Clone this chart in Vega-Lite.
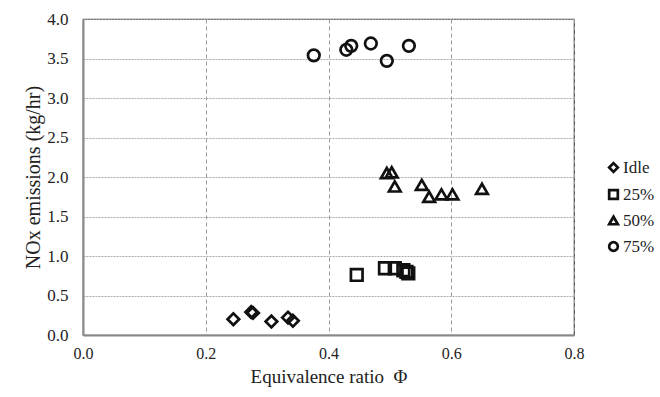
{
  "$schema": "https://vega.github.io/schema/vega-lite/v6.json",
  "width": 491,
  "height": 316,
  "autosize": {"type": "none"},
  "padding": {"left": 83, "top": 19, "right": 86, "bottom": 62},
  "background": "white",
  "config": {
    "font": "Liberation Serif",
    "view": {"stroke": "#444", "strokeWidth": 1.2},
    "axis": {
      "labelFont": "Liberation Serif",
      "titleFont": "Liberation Serif",
      "labelFontSize": 17,
      "titleFontSize": 19,
      "titleFontWeight": "normal",
      "labelColor": "#222",
      "titleColor": "#222",
      "domainColor": "#888",
      "domainWidth": 2,
      "ticks": false,
      "gridColor": "#aaa",
      "gridWidth": 1
    },
    "legend": {
      "labelFont": "Liberation Serif",
      "labelFontSize": 17,
      "labelColor": "#222"
    }
  },
  "data": {
    "values": [
      {"phi": 0.245, "nox": 0.20, "load": "Idle"},
      {"phi": 0.274, "nox": 0.29, "load": "Idle"},
      {"phi": 0.277, "nox": 0.28, "load": "Idle"},
      {"phi": 0.307, "nox": 0.17, "load": "Idle"},
      {"phi": 0.334, "nox": 0.22, "load": "Idle"},
      {"phi": 0.342, "nox": 0.18, "load": "Idle"},
      {"phi": 0.446, "nox": 0.76, "load": "25%"},
      {"phi": 0.492, "nox": 0.845, "load": "25%"},
      {"phi": 0.508, "nox": 0.845, "load": "25%"},
      {"phi": 0.522, "nox": 0.82, "load": "25%"},
      {"phi": 0.527, "nox": 0.80, "load": "25%"},
      {"phi": 0.530, "nox": 0.78, "load": "25%"},
      {"phi": 0.495, "nox": 2.05, "load": "50%"},
      {"phi": 0.503, "nox": 2.06, "load": "50%"},
      {"phi": 0.508, "nox": 1.88, "load": "50%"},
      {"phi": 0.552, "nox": 1.90, "load": "50%"},
      {"phi": 0.564, "nox": 1.75, "load": "50%"},
      {"phi": 0.584, "nox": 1.78, "load": "50%"},
      {"phi": 0.602, "nox": 1.78, "load": "50%"},
      {"phi": 0.650, "nox": 1.85, "load": "50%"},
      {"phi": 0.376, "nox": 3.54, "load": "75%"},
      {"phi": 0.429, "nox": 3.61, "load": "75%"},
      {"phi": 0.437, "nox": 3.66, "load": "75%"},
      {"phi": 0.469, "nox": 3.69, "load": "75%"},
      {"phi": 0.495, "nox": 3.47, "load": "75%"},
      {"phi": 0.531, "nox": 3.66, "load": "75%"}
    ]
  },
  "mark": {"type": "point", "filled": false, "stroke": "#111", "strokeWidth": 2.7, "opacity": 1, "size": 135},
  "encoding": {
    "x": {
      "field": "phi", "type": "quantitative",
      "scale": {"domain": [0, 0.8], "nice": false, "zero": true},
      "axis": {"values": [0, 0.2, 0.4, 0.6, 0.8], "format": ".1f", "title": "Equivalence ratio \u00a0Φ",
               "labelFontSize": 16, "labelPadding": 10, "titlePadding": 6, "gridDash": [4, 3], "gridColor": "#999", "labelFlush": false}
    },
    "y": {
      "field": "nox", "type": "quantitative",
      "scale": {"domain": [0, 4], "nice": false},
      "axis": {"values": [0, 0.5, 1, 1.5, 2, 2.5, 3, 3.5, 4], "format": ".1f", "title": "NOx emissions (kg/hr)",
               "titleFontSize": 20, "labelPadding": 15, "titlePadding": 3, "gridDash": [2, 1], "labelFlush": false}
    },
    "shape": {
      "field": "load", "type": "nominal",
      "scale": {"domain": ["Idle", "25%", "50%", "75%"], "range": ["diamond", "square", "triangle-up", "circle"]},
      "legend": {"title": null, "orient": "none", "legendX": 522, "legendY": 140, "padding": 0,
                 "symbolStrokeColor": "#111", "symbolStrokeWidth": 2.7, "symbolFillColor": "transparent",
                 "symbolSize": 75, "rowPadding": 6, "labelOffset": 1}
    }
  }
}
